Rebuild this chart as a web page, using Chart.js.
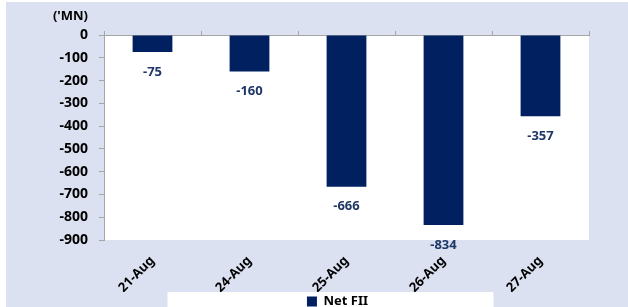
<!DOCTYPE html>
<html>
<head>
<meta charset="utf-8">
<script src="https://cdn.jsdelivr.net/npm/chart.js@4.4.0/dist/chart.umd.min.js"></script>
<style>
    html, body { margin: 0; padding: 0; background: #ffffff; }
    #wrap { width: 628px; height: 307px; position: relative; }
</style>
</head>
<body>
<div id="wrap"><canvas id="fiiChart" width="628" height="307"></canvas></div>
<script>
// chart data
const categories = ['21-Aug', '24-Aug', '25-Aug', '26-Aug', '27-Aug'];
const netFii = [-75, -160, -666, -834, -357];
const yTicks = [0, -100, -200, -300, -400, -500, -600, -700, -800, -900];

const FONT = '"Noto Sans", sans-serif';

/**
 * Page background, plot area and legend box
 */
const backgroundPlugin = {
    id: 'backgroundPlugin',
    afterLayout(chart) {
        // legend sits a little right of centre, as in the original
        chart.legend.left += 43;
        chart.legend.right += 43;
    },
    beforeDraw(chart) {
        const ctx = chart.ctx;
        const area = chart.chartArea;
        ctx.save();
        ctx.fillStyle = '#dbe1f1';
        ctx.fillRect(6, 2, chart.width - 6, chart.height - 2);
        ctx.fillStyle = '#ffffff';
        ctx.fillRect(area.left, area.top, area.right - area.left, area.bottom - area.top);
        // white box behind the legend
        const lg = chart.legend;
        const cx = (lg.left + lg.right) / 2 - 7;
        ctx.fillRect(cx - 163, 292, 326, chart.height);
        ctx.restore();
    }
};

/**
 * Value labels and unit text
 */
const labelPlugin = {
    id: 'labelPlugin',
    afterDatasetsDraw(chart) {
        const ctx = chart.ctx;
        const meta = chart.getDatasetMeta(0);
        ctx.save();
        ctx.font = 'bold 13px ' + FONT;
        ctx.fillStyle = '#1f3767';
        ctx.textAlign = 'center';
        ctx.textBaseline = 'middle';
        meta.data.forEach((bar, i) => {
            ctx.fillText(netFii[i], bar.x, bar.y + 20);
        });
        ctx.restore();
    },
    afterDraw(chart) {
        const ctx = chart.ctx;
        ctx.save();
        ctx.font = 'bold 13px ' + FONT;
        ctx.fillStyle = '#000000';
        ctx.textAlign = 'right';
        ctx.textBaseline = 'middle';
        ctx.fillText("('MN)", chart.scales.y.right - 16, 16);
        ctx.restore();
    }
};

function initFiiChart() {
    const ctx = document.getElementById('fiiChart');
    if (!ctx) return;

    new Chart(ctx.getContext('2d'), {
        type: 'bar',
        data: {
            labels: categories,
            datasets: [{
                label: 'Net FII',
                data: netFii,
                backgroundColor: '#002060',
                borderWidth: 0,
                barPercentage: 0.41,
                categoryPercentage: 1.0,
                xAxisID: 'x',
                yAxisID: 'y'
            }]
        },
        options: {
            responsive: false,
            animation: false,
            layout: {
                padding: { left: 0, right: 39, top: 0, bottom: -11 }
            },
            plugins: {
                legend: {
                    position: 'bottom',
                    labels: {
                        color: '#000000',
                        boxWidth: 10,
                        boxHeight: 10,
                        padding: 3,
                        font: { family: FONT, size: 13, weight: 'bold' }
                    }
                },
                tooltip: { enabled: false }
            },
            scales: {
                x: {
                    type: 'category',
                    position: 'bottom',
                    grid: { display: false, drawTicks: false },
                    border: { display: false },
                    ticks: {
                        color: '#000000',
                        minRotation: 45,
                        maxRotation: 45,
                        padding: 13,
                        font: { family: FONT, size: 13, weight: 'bold' }
                    },
                    afterFit(scale) { scale.height = 52; }
                },
                xTop: {
                    type: 'category',
                    position: 'top',
                    labels: categories,
                    offset: true,
                    grid: {
                        offset: true,
                        drawOnChartArea: false,
                        tickLength: 4,
                        color: '#a6a6a6'
                    },
                    border: { color: '#a6a6a6', width: 1 },
                    ticks: { display: false },
                    afterFit(scale) { scale.height = 35; }
                },
                y: {
                    min: yTicks[yTicks.length - 1],
                    max: yTicks[0],
                    afterBuildTicks(scale) {
                        scale.ticks = yTicks.map(v => ({ value: v }));
                    },
                    grid: {
                        drawOnChartArea: false,
                        tickLength: 5,
                        color: '#a6a6a6'
                    },
                    border: { color: '#a6a6a6', width: 1 },
                    ticks: {
                        color: '#000000',
                        padding: 11,
                        font: { family: FONT, size: 14, weight: 'bold' }
                    },
                    afterFit(scale) { scale.width = 104; }
                }
            }
        },
        plugins: [backgroundPlugin, labelPlugin]
    });
}

document.addEventListener('DOMContentLoaded', initFiiChart);
</script>
</body>
</html>
